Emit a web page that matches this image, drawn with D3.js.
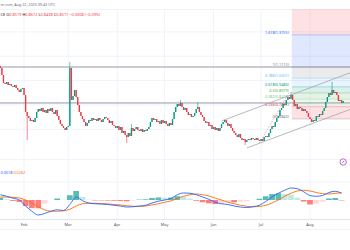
<!DOCTYPE html>
<html>
<head>
<meta charset="utf-8">
<script src="https://cdn.jsdelivr.net/npm/d3@7"></script>
<style>
  body { margin: 0; background: #fff; }
  svg { display: block; font-family: "Noto Sans", sans-serif; }
</style>
</head>
<body>
<div id="chart"></div>
<script>
// daily candles, Jan 17 -> Aug 22 2025 (open = previous close)
const firstDay = '2025-01-17'
const firstOpen = 1.1197
const closes = [
  1.1033, 1.0458, 0.9800, 0.9718, 0.9883, 0.9636, 0.9718, 0.9554, 0.9472, 0.9636,
  0.9389, 0.9225, 0.9061, 0.9307, 0.9389, 0.8814, 0.7417, 0.7089, 0.6924, 0.6678,
  0.6760, 0.6596, 0.6924, 0.7417, 0.7664, 0.7500, 0.7746, 0.7417, 0.7582, 0.7335,
  0.7664, 0.7500, 0.7746, 0.7417, 0.7253, 0.7582, 0.7089, 0.6760, 0.6431, 0.6267,
  0.6103, 0.5938, 0.6185, 0.6267, 1.1033, 0.8403, 0.8732, 0.9225, 0.8650, 0.7993,
  0.7417, 0.7089, 0.6842, 0.6596, 0.6267, 0.6514, 0.6760, 0.6678, 0.6924, 0.6760,
  0.6842, 0.6678, 0.6924, 0.6760, 0.6596, 0.6842, 0.7007, 0.6924, 0.6760, 0.6514,
  0.6678, 0.6349, 0.6267, 0.6103, 0.6267, 0.5938, 0.6185, 0.5692, 0.5856, 0.5528,
  0.5363, 0.5692, 0.5445, 0.6103, 0.5856, 0.6021, 0.6185, 0.5938, 0.5856, 0.6021,
  0.5774, 0.5938, 0.5856, 0.6021, 0.6185, 0.6596, 0.6924, 0.6760, 0.6842, 0.6596,
  0.6678, 0.6431, 0.6760, 0.6514, 0.6678, 0.6431, 0.6267, 0.6514, 0.6349, 0.6842,
  0.7417, 0.7828, 0.8075, 0.7910, 0.8157, 0.7828, 0.7582, 0.7746, 0.7417, 0.7171,
  0.7253, 0.7007, 0.7089, 0.7335, 0.7664, 0.7828, 0.7417, 0.7171, 0.7007, 0.6678,
  0.6514, 0.6596, 0.6267, 0.6349, 0.6021, 0.6185, 0.5938, 0.6103, 0.5856, 0.6103,
  0.6431, 0.6596, 0.6760, 0.6514, 0.6267, 0.6431, 0.6103, 0.5856, 0.5692, 0.5528,
  0.5363, 0.5610, 0.5281, 0.5117, 0.5199, 0.4952, 0.5117, 0.5199, 0.5117, 0.5281,
  0.5199, 0.5117, 0.5281, 0.5117, 0.5035, 0.5199, 0.5035, 0.5363, 0.5445, 0.5363,
  0.5692, 0.6021, 0.6267, 0.6185, 0.6596, 0.6924, 0.7089, 0.7582, 0.7746, 0.8075,
  0.7993, 0.8403, 0.8650, 0.8486, 0.8814, 0.8403, 0.7910, 0.8075, 0.7664, 0.7828,
  0.7746, 0.7500, 0.7664, 0.7500, 0.7335, 0.7007, 0.6842, 0.6596, 0.6760, 0.6678,
  0.7089, 0.7007, 0.7253, 0.7171, 0.7500, 0.7746, 0.8239, 0.8650, 0.8979, 0.8814,
  0.9225, 0.8979, 0.9061, 0.8814, 0.8321, 0.8403, 0.8157, 0.8321
]
// [day index, high, low] for the visible long wicks
const wicks = [
  [17, null, 0.5117], [44, 1.1526, null], [80, null, 0.4870], [83, 0.6431, null],
  [114, 0.8403, null], [125, 0.8239, null], [155, null, 0.4706], [184, 0.9061, null],
  [210, 0.9883, null]
]

// MACD pane, one sample every 4 days from the first day
const macdStep = 4
const macdLine = [
  0.035, 0.025, 0.012, 0.0, -0.04, -0.075, -0.1, -0.09, -0.075, -0.065,
  -0.07, -0.03, 0.02, -0.005, -0.02, -0.025, -0.027, -0.03, -0.035, -0.04,
  -0.047, -0.045, -0.04, -0.035, -0.02, -0.008, 0.0, 0.01, 0.035, 0.047,
  0.045, 0.035, 0.02, 0.005, -0.015, -0.025, -0.03, -0.04, -0.047, -0.05,
  -0.045, -0.035, -0.01, 0.02, 0.045, 0.065, 0.08, 0.075, 0.055, 0.03,
  0.025, 0.03, 0.05, 0.058, 0.045
]
const signalLine = [
  0.02, 0.02, 0.018, 0.013, 0.0, -0.02, -0.045, -0.065, -0.075, -0.075,
  -0.072, -0.062, -0.04, -0.025, -0.022, -0.022, -0.024, -0.026, -0.03, -0.033,
  -0.038, -0.042, -0.043, -0.04, -0.033, -0.025, -0.015, -0.006, 0.01, 0.025,
  0.035, 0.04, 0.035, 0.027, 0.012, 0.0, -0.015, -0.025, -0.035, -0.042,
  -0.045, -0.043, -0.035, -0.02, 0.0, 0.025, 0.045, 0.06, 0.065, 0.06,
  0.05, 0.042, 0.04, 0.045, 0.048
]
const histogram = [
  0.015, 0.005, -0.006, -0.013, -0.04, -0.055, -0.055, -0.025, 0.0, 0.01,
  0.002, 0.032, 0.06, 0.02, 0.002, -0.003, -0.003, -0.004, -0.005, -0.007,
  -0.009, -0.003, 0.003, 0.005, 0.013, 0.017, 0.015, 0.016, 0.025, 0.022,
  0.01, -0.005, -0.015, -0.022, -0.027, -0.025, -0.015, -0.015, -0.012, -0.008,
  0.0, 0.008, 0.025, 0.04, 0.045, 0.04, 0.035, 0.015, -0.01, -0.03,
  -0.025, -0.012, 0.01, 0.013, -0.003
]

const monthTicks = ['2025-02-01', '2025-03-01', '2025-04-01', '2025-05-01', '2025-06-01', '2025-07-01', '2025-08-01']
const monthLabels = ['Feb', 'Mar', 'Apr', 'May', 'Jun', 'Jul', 'Aug']
const priceGrid = [0.6, 0.8, 1.0, 1.2, 1.4]
const macdGrid = [0.12, 0.27]
const hLevels = [1.1115, 0.816]

// fib extension levels
const fibRatios = [0, 0.236, 0.382, 0.5, 0.618, 0.786, 1, 1.618, 2.618]
const fibColors = ['#787b86', '#f23645', '#81c784', '#4caf50', '#089981', '#64b5f6', '#787b86', '#2962ff', '#f23645']
const fibBase = 0.6843
const fibRange = 0.4272
const fibStart = '2025-07-20T12:00Z'
const fibTrend = [['2025-06-30', 0.487], ['2025-07-19', 0.906]]
const channels = [
  [['2025-06-06', 0.668], ['2025-08-27', 1.067]],
  [['2025-06-22', 0.446], ['2025-08-27', 0.766]]
]

const headerText = 'm.com, Aug 22, 2025 09:43 UTC'
const legendParts = [['CE ', '#131722'], ['O', '#131722'], ['0.8519 ', '#f23645'], ['H', '#131722'], ['0.8672 ', '#f23645'],
  ['L', '#131722'], ['0.8438 ', '#f23645'], ['C', '#131722'], ['0.8511 ', '#f23645'], ['\u22120.0008 (\u22120.09%)', '#f23645']]
const macdLegend = [['0.0018', '#2962ff'], ['0.0262', '#ff6d00']]

const width = 350
const height = 250
const pane = { top: 9, bottom: 153 }
const macdPane = { top: 153, bottom: 219 }
const upColor = '#089981'
const downColor = '#f23645'

const svg = d3.select('#chart').append('svg')
  .attr('width', width).attr('height', height)

const x = d3.scaleUtc()
  .domain([new Date('2025-01-16T19:00Z'), new Date('2025-08-26T08:00Z')])
  .range([0, width])
const y = d3.scaleLinear().domain([0.4131, 1.5881]).range([152, 9])
const yMacd = d3.scaleLinear().domain([-0.12, 0.28]).range([218, 158])

const defs = svg.append('defs')
defs.append('clipPath').attr('id', 'clip-main')
  .append('rect').attr('x', 0).attr('y', pane.top).attr('width', width).attr('height', pane.bottom - pane.top)
defs.append('clipPath').attr('id', 'clip-macd')
  .append('rect').attr('x', 0).attr('y', macdPane.top).attr('width', width).attr('height', macdPane.bottom - macdPane.top)

// grid
const grid = svg.append('g').attr('stroke', '#f0f3fa').attr('stroke-width', 1)
grid.selectAll('.vgrid').data(monthTicks).join('line')
  .attr('x1', d => x(new Date(d))).attr('x2', d => x(new Date(d)))
  .attr('y1', pane.top).attr('y2', macdPane.bottom)
grid.selectAll('.hgrid').data(priceGrid).join('line')
  .attr('x1', 0).attr('x2', width)
  .attr('y1', d => y(d)).attr('y2', d => y(d))
grid.selectAll('.mgrid').data(macdGrid).join('line')
  .attr('x1', 0).attr('x2', width)
  .attr('y1', d => yMacd(d)).attr('y2', d => yMacd(d))
grid.append('line').attr('x1', 0).attr('x2', width).attr('y1', pane.top + 0.5).attr('y2', pane.top + 0.5)

const main = svg.append('g').attr('clip-path', 'url(#clip-main)')

// fib zones
const fibX = x(new Date(fibStart))
const fibY = r => y(fibBase + r * fibRange)
const zones = fibRatios.slice(1).map((r, i) => ({ from: fibRatios[i], to: r, color: fibColors[i + 1] }))
main.selectAll('.fibzone').data(zones).join('rect')
  .attr('x', fibX).attr('width', width - fibX)
  .attr('y', d => fibY(d.to)).attr('height', d => fibY(d.from) - fibY(d.to))
  .attr('fill', d => d.color).attr('fill-opacity', 0.15)
main.selectAll('.fibline').data(fibRatios).join('line')
  .attr('x1', fibX).attr('x2', width)
  .attr('y1', d => fibY(d)).attr('y2', d => fibY(d))
  .attr('stroke', (d, i) => fibColors[i]).attr('stroke-opacity', 0.5).attr('stroke-width', 0.6)
main.selectAll('.fiblabel').data(fibRatios.slice(0, 8)).join('text')
  .attr('x', fibX - 3).attr('y', d => fibY(d) - 0.8)
  .attr('text-anchor', 'end').attr('font-size', 3.8)
  .attr('fill', (d, i) => fibColors[i])
  .text(d => `${d}(${(fibBase + d * fibRange).toFixed(4)})`)

// horizontal levels and channel
main.selectAll('.hlevel').data(hLevels).join('line')
  .attr('x1', 0).attr('x2', width)
  .attr('y1', d => y(d)).attr('y2', d => y(d))
  .attr('stroke', '#9598a1').attr('stroke-width', 1)
main.selectAll('.channel').data(channels).join('line')
  .attr('x1', d => x(new Date(d[0][0]))).attr('y1', d => y(d[0][1]))
  .attr('x2', d => x(new Date(d[1][0]))).attr('y2', d => y(d[1][1]))
  .attr('stroke', '#a3a6af').attr('stroke-width', 0.8)
main.append('line')
  .attr('x1', x(new Date(fibTrend[0][0]))).attr('y1', y(fibTrend[0][1]))
  .attr('x2', x(new Date(fibTrend[1][0]))).attr('y2', y(fibTrend[1][1]))
  .attr('stroke', '#f23645').attr('stroke-opacity', 0.6).attr('stroke-width', 0.7)
  .attr('stroke-dasharray', '1.5,1.5')

// candles
const wickMap = new Map(wicks.map(w => [w[0], w]))
const candles = closes.map((c, i) => {
  const open = i ? closes[i - 1] : firstOpen
  const w = wickMap.get(i)
  return {
    date: d3.utcDay.offset(new Date(firstDay), i),
    open,
    close: c,
    high: w && w[1] != null ? w[1] : Math.max(open, c),
    low: w && w[2] != null ? w[2] : Math.min(open, c)
  }
})
const candleG = main.append('g')
candleG.selectAll('.wick').data(candles).join('line')
  .attr('x1', d => x(d.date)).attr('x2', d => x(d.date))
  .attr('y1', d => y(d.high)).attr('y2', d => y(d.low))
  .attr('stroke', d => d.close >= d.open ? upColor : downColor)
  .attr('stroke-width', 0.6)
candleG.selectAll('.body').data(candles).join('rect')
  .attr('x', d => x(d.date) - 0.65).attr('width', 1.3)
  .attr('y', d => y(Math.max(d.open, d.close)))
  .attr('height', d => Math.max(0.6, Math.abs(y(d.open) - y(d.close))))
  .attr('fill', d => d.close >= d.open ? upColor : downColor)

// MACD pane
const macdG = svg.append('g').attr('clip-path', 'url(#clip-macd)')
const macdDates = macdLine.map((_, k) => d3.utcDay.offset(new Date(firstDay), k * macdStep))
const barW = x(macdDates[1]) - x(macdDates[0]) - 0.6
macdG.selectAll('.hist').data(histogram).join('rect')
  .attr('x', (d, k) => x(macdDates[k]) - barW / 2).attr('width', barW)
  .attr('y', d => yMacd(Math.max(0, d)))
  .attr('height', d => Math.abs(yMacd(d) - yMacd(0)))
  .attr('fill-opacity', 0.75)
  .attr('fill', (d, k) => {
    const prev = k ? histogram[k - 1] : d
    if (d >= 0) return d >= prev ? '#26a69a' : '#b2dfdb'
    return d <= prev ? '#ff5252' : '#ffcdd2'
  })
const macdPath = d3.line().x((d, k) => x(macdDates[k])).y(d => yMacd(d)).curve(d3.curveMonotoneX)
macdG.append('path').datum(signalLine).attr('d', macdPath)
  .attr('fill', 'none').attr('stroke', '#ff6d00').attr('stroke-width', 0.9)
macdG.append('path').datum(macdLine).attr('d', macdPath)
  .attr('fill', 'none').attr('stroke', '#2962ff').attr('stroke-width', 0.9)

const macdText = svg.append('text').attr('x', 0.5).attr('y', 173.5).attr('font-size', 3.8)
macdLegend.forEach(p => macdText.append('tspan').attr('fill', p[1]).text(p[0] + '  '))

// small drawing-tool icon
const icon = svg.append('g').attr('transform', `translate(${x(new Date('2025-08-22'))},162)`)
icon.append('circle').attr('r', 3.2).attr('fill', '#fff').attr('stroke', '#ab47bc').attr('stroke-width', 0.8)
icon.append('line').attr('x1', -1.2).attr('y1', 1.2).attr('x2', 1.2).attr('y2', -1.2)
  .attr('stroke', '#ab47bc').attr('stroke-width', 0.8)

// time axis
svg.append('line').attr('x1', 0).attr('x2', width).attr('y1', 219.5).attr('y2', 219.5)
  .attr('stroke', '#e0e3eb').attr('stroke-width', 1)
svg.append('line').attr('x1', 0).attr('x2', width).attr('y1', 229.5).attr('y2', 229.5)
  .attr('stroke', '#f0f3fa').attr('stroke-width', 1)
svg.selectAll('.month').data(monthTicks).join('text')
  .attr('x', d => x(new Date(d))).attr('y', 226.3)
  .attr('text-anchor', 'middle').attr('font-size', 3.9).attr('fill', '#50535e')
  .text((d, i) => monthLabels[i])

// header legend
svg.append('text').attr('x', 0.5).attr('y', 6.3).attr('font-size', 3.7).attr('fill', '#6a6d78').text(headerText)
const legend = svg.append('text').attr('x', 0.5).attr('y', 15.8).attr('font-size', 3.9)
legendParts.forEach(p => legend.append('tspan').attr('fill', p[1]).text(p[0]))
</script>
</body>
</html>
